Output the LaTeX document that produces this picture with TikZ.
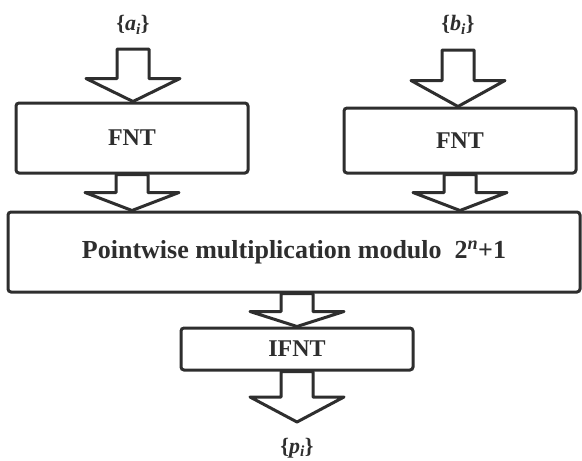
\documentclass[tikz,border=0pt]{standalone}
\usepackage{fontspec}
\setmainfont{Liberation Serif}
\usetikzlibrary{calc}
\definecolor{ink}{HTML}{2E2E2E}
\newcommand{\blockarr}[3]{%
  \draw[blk] let \p1=(#1), \p2=(#2) in
    (\x1-16pt,\y1) -- (\x1-16pt,\y2+#3pt) -- (\x1-47pt,\y2+#3pt) -- (\x1,\y2)
    -- (\x1+47pt,\y2+#3pt) -- (\x1+16pt,\y2+#3pt) -- (\x1+16pt,\y1) -- cycle;}
\begin{document}
\begin{tikzpicture}[x=1pt,y=-1pt,
  box/.style={draw=ink,line width=3pt,rounded corners=3pt,fill=white,inner sep=0pt,
    font=\fontsize{24}{27}\selectfont\bfseries,text=ink},
  blk/.style={draw=ink,line width=3pt,line join=round,fill=white},
  lbl/.style={inner sep=0pt,font=\fontsize{22}{25}\selectfont\bfseries,text=ink}]
\useasboundingbox (0,0) rectangle (582,461);
% boxes
\node[box,minimum width=232pt,minimum height=70pt] (fntl) at (132,138) {FNT};
\node[box,minimum width=232pt,minimum height=65pt] (fntr) at (460,140.5) {FNT};
\node[box,minimum width=572pt,minimum height=80pt] (big) at (294,252)
  {\raisebox{2pt}{\fontsize{26}{29}\selectfont Pointwise multiplication modulo\ \ 2\textsuperscript{\itshape n}+1}};
\node[box,minimum width=232pt,minimum height=42pt] (ifnt) at (297,349) {IFNT};
% labels
\node[lbl] (a) at (133,25) {\{\textit{a}\textsubscript{\textit{i}}\}};
\node[lbl] (b) at (458,25) {\{\textit{b}\textsubscript{\textit{i}}\}};
\node[lbl] (p) at (297,448) {\{\textit{p}\textsubscript{\textit{i}}\}};
\coordinate (ain) at (133,49);
\coordinate (bin) at (458,50);
\coordinate (pout) at (297,422);
% block arrows
\blockarr{ain}{fntl.north}{23}
\blockarr{bin}{fntr.north}{26}
\blockarr{fntl.south}{big.north}{18}
\blockarr{fntr.south}{big.north}{18}
\blockarr{ifnt.north |- big.south}{ifnt.north}{15}
\blockarr{ifnt.south}{pout}{25}
\end{tikzpicture}
\end{document}
